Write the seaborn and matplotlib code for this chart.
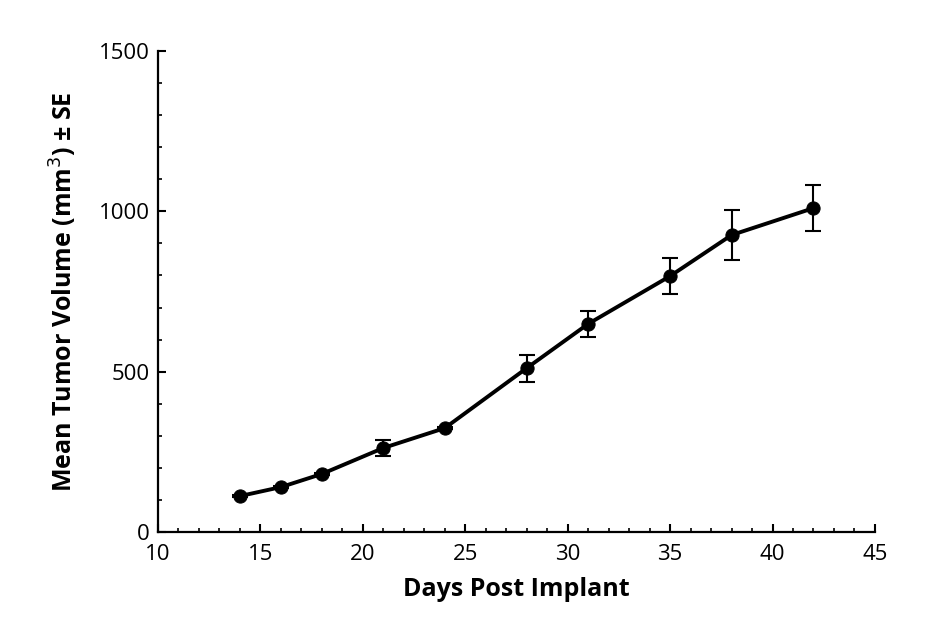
import matplotlib
matplotlib.use("Agg")
import matplotlib.pyplot as plt
from matplotlib.ticker import MultipleLocator
import seaborn as sns
import pandas as pd

days = [14, 16, 18, 21, 24, 28, 31, 35, 38, 42]
mean_volume = [112, 140, 181, 262, 324, 511, 649, 798, 926, 1010]
se = [2, 2, 3, 25, 3, 42, 40, 57, 78, 72]

df = pd.DataFrame({"day": days, "vol": mean_volume, "se": se})

sns.set_theme(style="ticks")
plt.rcParams['font.family'] = ['Open Sans', 'DejaVu Sans']
plt.rcParams['xtick.direction'] = 'in'
plt.rcParams['ytick.direction'] = 'in'
plt.rcParams['text.color'] = 'black'
plt.rcParams['axes.labelcolor'] = 'black'
plt.rcParams['xtick.color'] = 'black'
plt.rcParams['ytick.color'] = 'black'

fig = plt.figure(figsize=(9.5, 6.4), dpi=100)
ax = fig.add_axes([0.1663, 0.16875, 0.7547, 0.7516])

ax.errorbar(df["day"], df["vol"], yerr=df["se"], fmt="none", ecolor="black",
            elinewidth=1.5, capsize=6, capthick=1.5, zorder=2)
sns.lineplot(data=df, x="day", y="vol", ax=ax, color="black", linewidth=2.8,
             marker="o", markersize=9.5, markeredgecolor="black", zorder=3)

ax.set_xlim(10, 45)
ax.set_ylim(0, 1500)
ax.xaxis.set_major_locator(MultipleLocator(5))
ax.xaxis.set_minor_locator(MultipleLocator(1))
ax.yaxis.set_major_locator(MultipleLocator(500))
ax.yaxis.set_minor_locator(MultipleLocator(100))
ax.tick_params(which="major", direction="in", length=6, width=1.5, labelsize=16, colors="black")
ax.tick_params(axis="x", which="major", pad=9)
ax.tick_params(axis="y", which="major", pad=6)
ax.tick_params(which="minor", direction="in", length=3, width=1.2)
for s in ["top", "right"]:
    ax.spines[s].set_visible(False)
for s in ["left", "bottom"]:
    ax.spines[s].set_linewidth(1.6)
    ax.spines[s].set_color("black")

ax.set_xlabel("Days Post Implant", fontsize=18, fontweight="bold", labelpad=8)
ax.set_ylabel("Mean Tumor Volume (mm$^{3}$) ± SE", fontsize=18, fontweight="bold", labelpad=14)

fig.savefig("out.png", dpi=100)
